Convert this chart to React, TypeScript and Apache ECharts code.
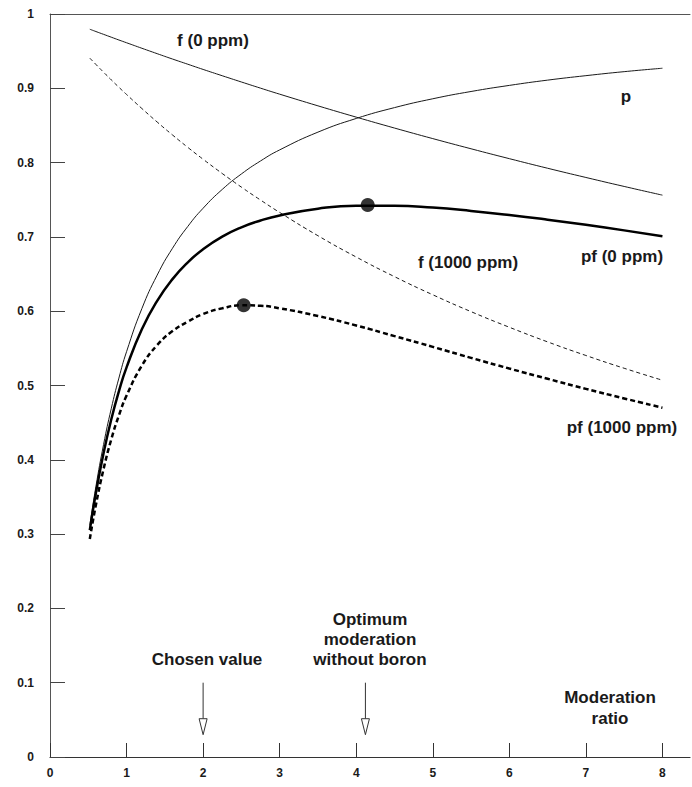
import React, { useEffect, useRef } from "react";
import * as echarts from "echarts";

const moderation = [0.52, 0.6, 0.7, 0.8, 0.9, 1.0, 1.2, 1.4, 1.6, 1.8, 2.0, 2.25, 2.5, 2.75, 3.0, 3.5, 4.0, 4.5, 5.0, 5.5, 6.0, 6.5, 7.0, 7.5, 8.0];
const pValues = [0.3118, 0.3642, 0.4207, 0.4688, 0.51, 0.5455, 0.6035, 0.6486, 0.6847, 0.7141, 0.7386, 0.7639, 0.7847, 0.8022, 0.8171, 0.841, 0.8594, 0.874, 0.8859, 0.8957, 0.9039, 0.911, 0.917, 0.9224, 0.927];
const f0Values = [0.9795, 0.9764, 0.9726, 0.9688, 0.965, 0.9613, 0.9539, 0.9466, 0.9394, 0.9324, 0.9254, 0.9169, 0.9085, 0.9002, 0.8921, 0.8764, 0.8612, 0.8465, 0.8323, 0.8186, 0.8053, 0.7924, 0.78, 0.7679, 0.7562];
const f1000Values = [0.9406, 0.9321, 0.9216, 0.9114, 0.9014, 0.8917, 0.8728, 0.8546, 0.8372, 0.8205, 0.8045, 0.7853, 0.767, 0.7496, 0.7329, 0.7016, 0.6729, 0.6465, 0.6221, 0.5994, 0.5784, 0.5587, 0.5404, 0.5232, 0.5071];
const pf0Values = [0.3054, 0.3556, 0.4092, 0.4542, 0.4922, 0.5244, 0.5757, 0.614, 0.6432, 0.6658, 0.6835, 0.7004, 0.7129, 0.7221, 0.7289, 0.738, 0.742, 0.742, 0.7395, 0.735, 0.7295, 0.7232, 0.7163, 0.7088, 0.701];
const pf1000Values = [0.2933, 0.3395, 0.3877, 0.4273, 0.4597, 0.4864, 0.5267, 0.5543, 0.5732, 0.5859, 0.5962, 0.6039, 0.6079, 0.6073, 0.6039, 0.5935, 0.5808, 0.5665, 0.552, 0.5372, 0.5228, 0.509, 0.4955, 0.4826, 0.4701];
const optimumPoints = [[4.15, 0.743], [2.53, 0.608]];
const arrows = [[2, 0.1, 0.03], [4.12, 0.1, 0.03]];
const xTicks = [0, 1, 2, 3, 4, 5, 6, 7, 8];

const FONT = "Liberation Sans, Arial, sans-serif";
const INK = "#1a1a1a";

function zip(xs: number[], ys: number[]) {
  return xs.map((x, i) => [x, ys[i]]);
}

export default function App() {
  const ref = useRef<HTMLDivElement>(null);
  useEffect(() => {
    if (!ref.current) return;
    const chart = echarts.init(ref.current, null, { renderer: "svg" });
    const thin = { color: INK, width: 1 };
    const label = (x: number, y: number, text: string) => ({
      type: "text",
      x,
      y,
      style: {
        text,
        fill: INK,
        font: `bold 17px ${FONT}`,
        textAlign: "center",
        textVerticalAlign: "middle",
      },
    });
    const smooth = true;
    chart.setOption({
      animation: false,
      backgroundColor: "#fff",
      grid: { left: 50, right: 2, top: 14, bottom: 30 },
      xAxis: [
        {
          type: "value",
          min: 0,
          max: 8.36,
          interval: 1,
          axisLine: { show: true, lineStyle: { color: "#333", width: 1.2 } },
          axisTick: { inside: true, length: 14, lineStyle: { color: "#333" }, customValues: xTicks },
          axisLabel: { customValues: xTicks, color: INK, fontFamily: FONT, fontWeight: "bold", fontSize: 12, margin: 10 },
          splitLine: { show: false },
        },
        {
          type: "value",
          position: "top",
          min: 0,
          max: 8.36,
          axisLine: { show: true, lineStyle: { color: "#555", width: 1 } },
          axisTick: { show: false },
          axisLabel: { show: false },
          splitLine: { show: false },
        },
      ],
      yAxis: {
        type: "value",
        min: 0,
        max: 1,
        interval: 0.1,
        axisLine: { show: true, lineStyle: { color: "#555", width: 1 } },
        axisTick: { inside: true, length: 15, lineStyle: { color: "#444" } },
        axisLabel: { color: INK, fontFamily: FONT, fontWeight: "bold", fontSize: 12, margin: 16 },
        splitLine: { show: false },
      },
      series: [
        { name: "f (0 ppm)", type: "line", data: zip(moderation, f0Values), smooth, showSymbol: false, lineStyle: thin },
        { name: "p", type: "line", data: zip(moderation, pValues), smooth, showSymbol: false, lineStyle: thin },
        { name: "f (1000 ppm)", type: "line", data: zip(moderation, f1000Values), smooth, showSymbol: false, lineStyle: { color: INK, width: 1, type: [4, 3] } },
        { name: "pf (0 ppm)", type: "line", data: zip(moderation, pf0Values), smooth, showSymbol: false, lineStyle: { color: "#000", width: 2.5 } },
        { name: "pf (1000 ppm)", type: "line", data: zip(moderation, pf1000Values), smooth, showSymbol: false, lineStyle: { color: "#000", width: 2.5, type: [5, 3] } },
        { name: "optimum", type: "scatter", data: optimumPoints, symbolSize: 14, itemStyle: { color: "#000" }, z: 5 },
        {
          name: "arrows",
          type: "custom",
          data: arrows,
          renderItem: (params: any, api: any) => {
            const top = api.coord([api.value(0), api.value(1)]);
            const tip = api.coord([api.value(0), api.value(2)]);
            const headH = 16;
            const headW = 4;
            return {
              type: "group",
              children: [
                { type: "line", shape: { x1: top[0], y1: top[1], x2: tip[0], y2: tip[1] - headH }, style: { stroke: "#333", lineWidth: 1 } },
                {
                  type: "polygon",
                  shape: { points: [[tip[0] - headW, tip[1] - headH], [tip[0] + headW, tip[1] - headH], [tip[0], tip[1]]] },
                  style: { fill: "#fff", stroke: "#333", lineWidth: 1 },
                },
              ],
            };
          },
        },
      ],
      graphic: [
        label(213, 40, "f (0 ppm)"),
        label(626, 96, "p"),
        label(468, 262, "f (1000 ppm)"),
        label(622, 256, "pf (0 ppm)"),
        label(622, 427, "pf (1000 ppm)"),
        label(207, 659, "Chosen value"),
        label(370, 619, "Optimum"),
        label(370, 639, "moderation"),
        label(370, 659, "without boron"),
        label(610, 697, "Moderation"),
        label(610, 718, "ratio"),
      ],
    });
    return () => chart.dispose();
  }, []);
  return <div ref={ref} style={{ width: 692, height: 787, position: "absolute", left: 0, top: 0 }} />;
}
